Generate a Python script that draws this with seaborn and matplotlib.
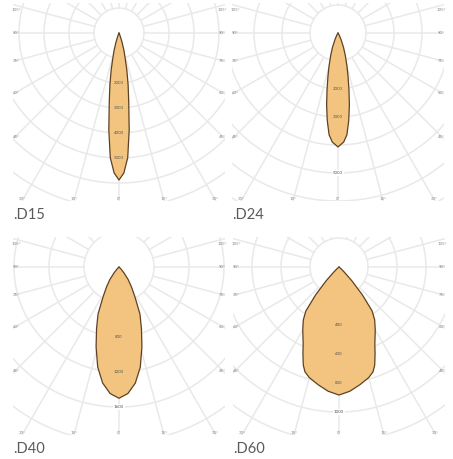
import numpy as np
import pandas as pd
import matplotlib
matplotlib.use("Agg")
import matplotlib.pyplot as plt
import seaborn as sns

# ── Data (intensity in cd vs angle from nadir, degrees) ─────────────────────
names = [".D15", ".D24", ".D40", ".D60"]

angles_d15 = [0, 2, 4, 6, 8, 10, 12, 14, 16, 18, 20, 24, 30]
cd_d15     = [5880, 5600, 5000, 3900, 2800, 2100, 1500, 1000, 700, 400, 200, 50, 0]

angles_d24 = [0, 3, 5, 7, 9, 11, 13, 15, 18, 21, 25, 30, 36]
cd_d24     = [4070, 3900, 3650, 3150, 2600, 2050, 1600, 1250, 850, 550, 250, 80, 0]

angles_d40 = [0, 4, 8, 12, 16, 20, 24, 28, 32, 36, 40, 45, 50]
cd_d40     = [1500, 1450, 1340, 1170, 950, 750, 590, 390, 270, 180, 90, 30, 0]

angles_d60 = [0, 5, 10, 15, 18, 20, 22.5, 25, 30, 34, 37, 40, 43, 46, 50, 55]
cd_d60     = [883, 860, 825, 790, 760, 720, 650, 585, 500, 440, 380, 250, 130, 50, 15, 0]

ring_step   = [1000, 1000, 400, 200]
ring_labels = [[2000, 3000, 4000, 5000], [2000, 3000, 5000], [800, 1200, 1600], [400, 600, 800, 1000]]

side_angles   = [105, 90, 75, 60, 45]
bottom_angles = [30, 15, 0]

# ── Layout (pixels) ─────────────────────────────────────────────────────────
W, H = 453, 459
ring_px = [25, 28, 35, 29]                      # pixels per ring step
centers = [(119, 33), (338, 33), (119, 267), (339, 267)]
LEFT, RIGHT, UP, DOWN = 106, 106, 30, 168       # axes box around the centre

sns.set_theme(style="white")
plt.rcParams["font.family"] = ["Lato", "DejaVu Sans"]

fig = plt.figure(figsize=(W / 100, H / 100), dpi=100)
fig.patch.set_facecolor("white")

GRID = "#e9e9e9"
FILL = "#f2c47f"
EDGE = "#5e4124"

series = [(angles_d15, cd_d15), (angles_d24, cd_d24), (angles_d40, cd_d40), (angles_d60, cd_d60)]

for i, (name, (ang, cd)) in enumerate(zip(names, series)):
    cx, cy = centers[i]
    s = ring_px[i] / ring_step[i]               # px per cd
    ax = fig.add_axes([(cx - LEFT) / W, (H - cy - DOWN) / H, (LEFT + RIGHT) / W, (UP + DOWN) / H])

    step = ring_step[i]
    far = 400 / s
    # rings
    t = np.linspace(0, 2 * np.pi, 400)
    for k in range(1, 12):
        ax.plot(k * step * np.cos(t), k * step * np.sin(t), color=GRID, lw=1.1, zorder=1)
    # radial lines every 15 degrees
    for a in range(0, 360, 15):
        r = np.radians(a)
        ax.plot([step * np.sin(r), far * np.sin(r)], [-step * np.cos(r), -far * np.cos(r)],
                color=GRID, lw=1.1, zorder=1)

    # beam
    th = np.radians(np.array(ang, dtype=float))
    v = np.array(cd, dtype=float)
    th_full = np.concatenate([-th[::-1], th[1:]])
    v_full = np.concatenate([v[::-1], v[1:]])
    df = pd.DataFrame({"x": v_full * np.sin(th_full), "y": -v_full * np.cos(th_full)})
    ax.fill(df["x"], df["y"], color=FILL, zorder=2, lw=0)
    sns.lineplot(data=df, x="x", y="y", sort=False, estimator=None, color=EDGE, lw=0.9,
                 ax=ax, zorder=3)
    ax.set_xlim(-LEFT / s, RIGHT / s)
    ax.set_ylim(-DOWN / s, UP / s)
    ax.axis("off")

    # ring value labels along nadir
    for val in ring_labels[i]:
        box = None if val < cd[0] else dict(boxstyle="square,pad=0.15", fc="white", ec="none")
        ax.text(0, -val, f"{val}", fontsize=3.2, color="#555555", ha="center", va="center",
                zorder=4, bbox=box)

    # angle labels on the frame
    for a in side_angles:
        r = np.radians(a)
        y = -104 * np.cos(r) / np.sin(r)
        y = min(y, 23)
        for sgn in (-1, 1):
            ax.text(sgn * 103 / s, y / s, f"{a}°", fontsize=3.2, color="#888888",
                    ha="center", va="center", zorder=4, clip_on=False)
    for a in bottom_angles:
        x = 167 * np.tan(np.radians(a))
        for sgn in ((-1, 1) if a else (1,)):
            ax.text(sgn * x / s, -166 / s, f"{a}°", fontsize=3.2, color="#888888",
                    ha="center", va="center", zorder=4, clip_on=False)

    fig.text((cx - 106) / W, 1 - (cy + 182) / H, name, fontsize=10.5, color="#5a5a5a",
             ha="left", va="center")

fig.savefig("out.png", dpi=100, facecolor="white")
